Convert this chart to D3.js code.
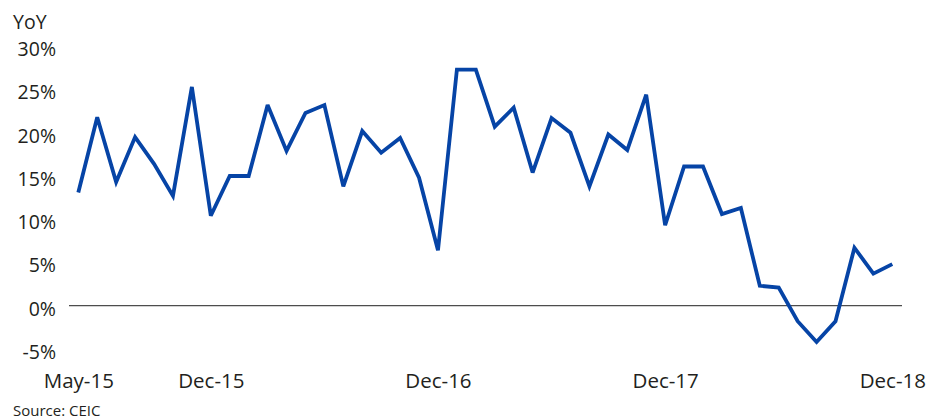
<!DOCTYPE html>
<html>
<head>
<meta charset="utf-8">
<script src="https://cdn.jsdelivr.net/npm/d3@7"></script>
<style>
  html, body { margin: 0; padding: 0; background: #fff; }
  svg { display: block; }
  text { font-family: "Open Sans", "Noto Sans", sans-serif; fill: #231f20; }
</style>
</head>
<body>
<svg id="chart" width="929" height="419"></svg>
<script>
// Monthly YoY growth, May-15 .. Dec-18
const months = [];
(function () {
  const names = ["Jan","Feb","Mar","Apr","May","Jun","Jul","Aug","Sep","Oct","Nov","Dec"];
  for (let y = 2015; y <= 2018; y++) {
    for (let m = 0; m < 12; m++) {
      if (y === 2015 && m < 4) continue;
      months.push(names[m] + "-" + String(y).slice(2));
    }
  }
})();
const values = [
  13.1, 21.8, 14.3, 19.5, 16.4, 12.7, 25.3, 10.4, 15.0, 15.0, 23.2, 17.9,
  22.3, 23.2, 13.8, 20.2, 17.7, 19.4, 14.8, 6.4, 27.3, 27.3, 20.7, 22.9,
  15.4, 21.7, 20.0, 13.8, 19.8, 18.0, 24.4, 9.3, 16.1, 16.1, 10.6, 11.3,
  2.3, 2.1, -1.8, -4.2, -1.8, 6.7, 3.7, 4.8
];
const yTicks = [-5, 0, 5, 10, 15, 20, 25, 30];
const xTickLabels = ["May-15", "Dec-15", "Dec-16", "Dec-17", "Dec-18"];
const yTitle = "YoY";
const source = "Source: CEIC";

const svg = d3.select("#chart");

const x = d3.scalePoint().domain(months).range([78.3, 892.3]);
const y = d3.scaleLinear().domain([-5, 30]).range([348.9, 46.3]);

// y axis labels
const yAxis = d3.axisLeft(y).tickValues(yTicks).tickSize(0).tickPadding(0)
  .tickFormat(d => d + "%");
svg.append("g")
  .attr("transform", "translate(56,0)")
  .call(yAxis)
  .call(g => g.select(".domain").remove())
  .call(g => g.selectAll("text")
    .attr("dy", "0.33em")
    .attr("y", 3)
    .style("font-size", "19.5px")
    .style("font-family", "'Open Sans', sans-serif")
    .attr("fill", "#231f20"));

// x axis labels
const xAxis = d3.axisBottom(x).tickValues(xTickLabels).tickSize(0).tickPadding(0);
svg.append("g")
  .attr("transform", "translate(0,373)")
  .call(xAxis)
  .call(g => g.select(".domain").remove())
  .call(g => g.selectAll("text")
    .attr("dy", "0.75em")
    .attr("y", 0)
    .style("font-size", "20.5px")
    .style("font-family", "'Open Sans', sans-serif")
    .attr("fill", "#231f20"));

// zero line
svg.append("line")
  .attr("x1", 69).attr("x2", 902)
  .attr("y1", y(0)).attr("y2", y(0))
  .attr("stroke", "#4d4d4d").attr("stroke-width", 1.3);

// data line
const line = d3.line()
  .x((d, i) => x(months[i]))
  .y(d => y(d));
svg.append("path")
  .datum(values)
  .attr("d", line)
  .attr("fill", "none")
  .attr("stroke", "#0644a6")
  .attr("stroke-width", 3.8)
  .attr("stroke-linejoin", "miter")
  .attr("stroke-miterlimit", 3);

// titles
svg.append("text").attr("x", 13).attr("y", 29)
  .style("font-size", "19.5px").text(yTitle);
svg.append("text").attr("x", 13).attr("y", 416)
  .style("font-size", "15px").text(source);
</script>
</body>
</html>
